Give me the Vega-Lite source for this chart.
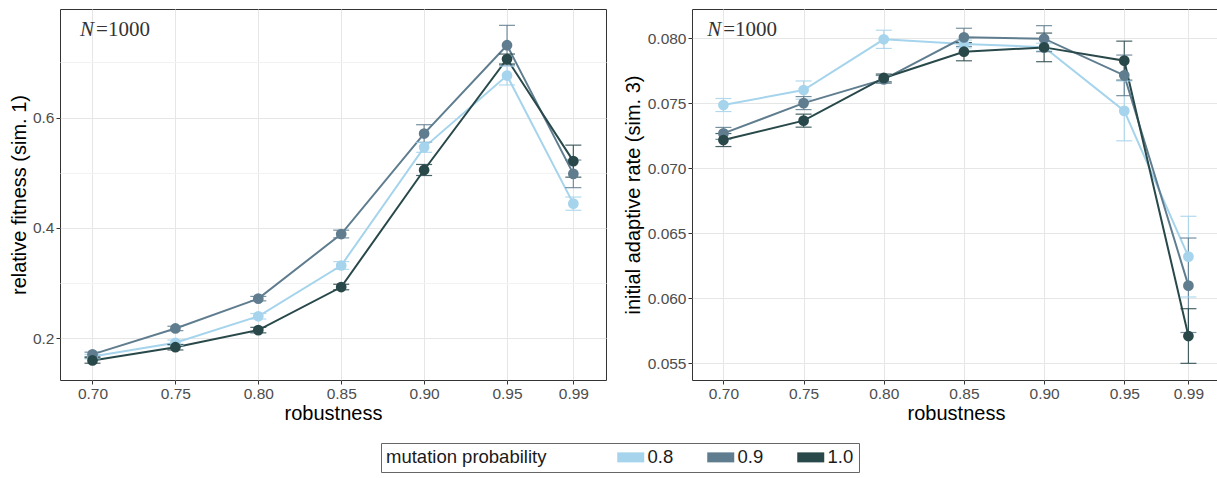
{
  "$schema": "https://vega.github.io/schema/vega-lite/v6.json",
  "padding": {"left": 8, "top": 8, "right": 0, "bottom": 0},
  "background": "white",
  "spacing": 86,
  "bounds": "flush",
  "datasets": {
    "fit": [
      {"r": 0.70, "m": "0.8", "v": 0.167, "lo": 0.163, "hi": 0.171},
      {"r": 0.75, "m": "0.8", "v": 0.192, "lo": 0.187, "hi": 0.197},
      {"r": 0.80, "m": "0.8", "v": 0.240, "lo": 0.235, "hi": 0.245},
      {"r": 0.85, "m": "0.8", "v": 0.332, "lo": 0.325, "hi": 0.339},
      {"r": 0.90, "m": "0.8", "v": 0.546, "lo": 0.537, "hi": 0.555},
      {"r": 0.95, "m": "0.8", "v": 0.676, "lo": 0.659, "hi": 0.693},
      {"r": 0.99, "m": "0.8", "v": 0.444, "lo": 0.432, "hi": 0.456},
      {"r": 0.70, "m": "0.9", "v": 0.171, "lo": 0.167, "hi": 0.175},
      {"r": 0.75, "m": "0.9", "v": 0.218, "lo": 0.214, "hi": 0.222},
      {"r": 0.80, "m": "0.9", "v": 0.272, "lo": 0.268, "hi": 0.276},
      {"r": 0.85, "m": "0.9", "v": 0.389, "lo": 0.382, "hi": 0.396},
      {"r": 0.90, "m": "0.9", "v": 0.571, "lo": 0.555, "hi": 0.587},
      {"r": 0.95, "m": "0.9", "v": 0.731, "lo": 0.695, "hi": 0.767},
      {"r": 0.99, "m": "0.9", "v": 0.498, "lo": 0.473, "hi": 0.523},
      {"r": 0.70, "m": "1.0", "v": 0.160, "lo": 0.155, "hi": 0.165},
      {"r": 0.75, "m": "1.0", "v": 0.184, "lo": 0.179, "hi": 0.189},
      {"r": 0.80, "m": "1.0", "v": 0.215, "lo": 0.210, "hi": 0.220},
      {"r": 0.85, "m": "1.0", "v": 0.293, "lo": 0.288, "hi": 0.298},
      {"r": 0.90, "m": "1.0", "v": 0.505, "lo": 0.495, "hi": 0.515},
      {"r": 0.95, "m": "1.0", "v": 0.706, "lo": 0.697, "hi": 0.715},
      {"r": 0.99, "m": "1.0", "v": 0.521, "lo": 0.492, "hi": 0.550}
    ],
    "rate": [
      {"r": 0.70, "m": "0.8", "v": 0.07485, "lo": 0.07435, "hi": 0.07535},
      {"r": 0.75, "m": "0.8", "v": 0.07600, "lo": 0.07530, "hi": 0.07670},
      {"r": 0.80, "m": "0.8", "v": 0.07990, "lo": 0.07920, "hi": 0.08060},
      {"r": 0.85, "m": "0.8", "v": 0.07954, "lo": 0.07924, "hi": 0.07984},
      {"r": 0.90, "m": "0.8", "v": 0.07930, "lo": 0.07900, "hi": 0.07960},
      {"r": 0.95, "m": "0.8", "v": 0.07440, "lo": 0.07210, "hi": 0.07670},
      {"r": 0.99, "m": "0.8", "v": 0.06320, "lo": 0.06010, "hi": 0.06630},
      {"r": 0.70, "m": "0.9", "v": 0.07267, "lo": 0.07221, "hi": 0.07313},
      {"r": 0.75, "m": "0.9", "v": 0.07500, "lo": 0.07450, "hi": 0.07550},
      {"r": 0.80, "m": "0.9", "v": 0.07682, "lo": 0.07652, "hi": 0.07712},
      {"r": 0.85, "m": "0.9", "v": 0.08005, "lo": 0.07935, "hi": 0.08075},
      {"r": 0.90, "m": "0.9", "v": 0.07995, "lo": 0.07895, "hi": 0.08095},
      {"r": 0.95, "m": "0.9", "v": 0.07713, "lo": 0.07557, "hi": 0.07869},
      {"r": 0.99, "m": "0.9", "v": 0.06097, "lo": 0.05737, "hi": 0.06463},
      {"r": 0.70, "m": "1.0", "v": 0.07216, "lo": 0.07166, "hi": 0.07266},
      {"r": 0.75, "m": "1.0", "v": 0.07365, "lo": 0.07315, "hi": 0.07415},
      {"r": 0.80, "m": "1.0", "v": 0.07693, "lo": 0.07663, "hi": 0.07723},
      {"r": 0.85, "m": "1.0", "v": 0.07895, "lo": 0.07825, "hi": 0.07965},
      {"r": 0.90, "m": "1.0", "v": 0.07928, "lo": 0.07818, "hi": 0.08038},
      {"r": 0.95, "m": "1.0", "v": 0.07826, "lo": 0.07676, "hi": 0.07976},
      {"r": 0.99, "m": "1.0", "v": 0.05710, "lo": 0.05500, "hi": 0.05920}
    ]
  },
  "hconcat": [
    {
      "width": 546,
      "height": 371,
      "data": {"name": "fit"},
      "encoding": {
        "x": {
          "field": "r", "type": "quantitative", "title": "robustness",
          "scale": {"domain": [0.6804, 1.0097], "nice": false, "zero": false},
          "axis": {"values": [0.70, 0.75, 0.80, 0.85, 0.90, 0.95, 0.99], "format": ".2f"}
        },
        "color": {
          "field": "m", "type": "nominal", "title": "mutation probability",
          "scale": {"domain": ["0.8", "0.9", "1.0"], "range": ["#a5d4ec", "#5f7d8f", "#28484a"]}
        }
      },
      "layer": [
        {
          "mark": {"type": "line", "strokeWidth": 2},
          "encoding": {
            "y": {
              "field": "v", "type": "quantitative", "title": "relative fitness (sim. 1)",
              "scale": {"domain": [0.1246, 0.7966], "nice": false, "zero": false},
              "axis": {
                "values": [0.2, 0.3, 0.4, 0.5, 0.6, 0.7],
                "labelExpr": "round(datum.value*10)%2==0 ? format(datum.value,'.1f') : ''",
                "tickOpacity": {"condition": {"test": "round(datum.value*10)%2==1", "value": 0}, "value": 1},
                "gridColor": {"condition": {"test": "round(datum.value*10)%2==1", "value": "#f2f2f2"}, "value": "#e6e6e6"},
                "titlePadding": 3
              }
            }
          }
        },
        {
          "mark": {"type": "rule", "strokeWidth": 1.2, "opacity": 0.85},
          "encoding": {"y": {"field": "lo", "type": "quantitative"}, "y2": {"field": "hi"}}
        },
        {
          "mark": {"type": "tick", "orient": "horizontal", "size": 16, "thickness": 1.2, "opacity": 0.85},
          "encoding": {"y": {"field": "lo", "type": "quantitative"}}
        },
        {
          "mark": {"type": "tick", "orient": "horizontal", "size": 16, "thickness": 1.2, "opacity": 0.85},
          "encoding": {"y": {"field": "hi", "type": "quantitative"}}
        },
        {
          "mark": {"type": "point", "filled": true, "size": 115, "opacity": 1},
          "encoding": {"y": {"field": "v", "type": "quantitative"}}
        },
        {
          "data": {"values": [{"x": 0.6925, "y": 0.759, "t": "N"}]},
          "mark": {"type": "text", "font": "Liberation Serif", "fontSize": 21, "fontStyle": "italic", "align": "left", "baseline": "middle"},
          "encoding": {"x": {"field": "x", "type": "quantitative"}, "y": {"field": "y", "type": "quantitative"}, "text": {"field": "t"}, "color": {"value": "#333333"}}
        },
        {
          "data": {"values": [{"x": 0.6925, "y": 0.759, "t": "=1000"}]},
          "mark": {"type": "text", "font": "Liberation Serif", "fontSize": 21, "align": "left", "baseline": "middle", "dx": 16},
          "encoding": {"x": {"field": "x", "type": "quantitative"}, "y": {"field": "y", "type": "quantitative"}, "text": {"field": "t"}, "color": {"value": "#333333"}}
        }
      ]
    },
    {
      "width": 528,
      "height": 371,
      "data": {"name": "rate"},
      "encoding": {
        "x": {
          "field": "r", "type": "quantitative", "title": "robustness",
          "scale": {"domain": [0.6804, 1.0097], "nice": false, "zero": false},
          "axis": {"values": [0.70, 0.75, 0.80, 0.85, 0.90, 0.95, 0.99], "format": ".2f"}
        },
        "color": {
          "field": "m", "type": "nominal", "title": "mutation probability",
          "scale": {"domain": ["0.8", "0.9", "1.0"], "range": ["#a5d4ec", "#5f7d8f", "#28484a"]}
        }
      },
      "layer": [
        {
          "mark": {"type": "line", "strokeWidth": 2},
          "encoding": {
            "y": {
              "field": "v", "type": "quantitative", "title": "initial adaptive rate (sim. 3)",
              "scale": {"domain": [0.05372, 0.08223], "nice": false, "zero": false},
              "axis": {
                "values": [0.055, 0.0575, 0.06, 0.0625, 0.065, 0.0675, 0.07, 0.0725, 0.075, 0.0775, 0.08],
                "labelExpr": "round(datum.value*400)%2==0 ? format(datum.value,'.3f') : ''",
                "tickOpacity": {"condition": {"test": "round(datum.value*400)%2==1", "value": 0}, "value": 1},
                "gridColor": {"condition": {"test": "round(datum.value*400)%2==1", "value": "#f2f2f2"}, "value": "#e6e6e6"},
                "titlePadding": 4
              }
            }
          }
        },
        {
          "mark": {"type": "rule", "strokeWidth": 1.2, "opacity": 0.85},
          "encoding": {"y": {"field": "lo", "type": "quantitative"}, "y2": {"field": "hi"}}
        },
        {
          "mark": {"type": "tick", "orient": "horizontal", "size": 16, "thickness": 1.2, "opacity": 0.85},
          "encoding": {"y": {"field": "lo", "type": "quantitative"}}
        },
        {
          "mark": {"type": "tick", "orient": "horizontal", "size": 16, "thickness": 1.2, "opacity": 0.85},
          "encoding": {"y": {"field": "hi", "type": "quantitative"}}
        },
        {
          "mark": {"type": "point", "filled": true, "size": 115, "opacity": 1},
          "encoding": {"y": {"field": "v", "type": "quantitative"}}
        },
        {
          "data": {"values": [{"x": 0.6899, "y": 0.08064, "t": "N"}]},
          "mark": {"type": "text", "font": "Liberation Serif", "fontSize": 21, "fontStyle": "italic", "align": "left", "baseline": "middle"},
          "encoding": {"x": {"field": "x", "type": "quantitative"}, "y": {"field": "y", "type": "quantitative"}, "text": {"field": "t"}, "color": {"value": "#333333"}}
        },
        {
          "data": {"values": [{"x": 0.6899, "y": 0.08064, "t": "=1000"}]},
          "mark": {"type": "text", "font": "Liberation Serif", "fontSize": 21, "align": "left", "baseline": "middle", "dx": 16},
          "encoding": {"x": {"field": "x", "type": "quantitative"}, "y": {"field": "y", "type": "quantitative"}, "text": {"field": "t"}, "color": {"value": "#333333"}}
        }
      ]
    }
  ],
  "config": {
    "font": "Liberation Sans",
    "view": {"stroke": "#333333", "strokeWidth": 1},
    "axis": {
      "domain": false,
      "tickColor": "#333333",
      "tickSize": 4,
      "tickWidth": 1,
      "labelColor": "#4d4d4d",
      "labelFontSize": 15.5,
      "labelPadding": 2,
      "titleFontSize": 20,
      "titleFontWeight": "normal",
      "titleColor": "#000000",
      "gridColor": "#e6e6e6",
      "gridWidth": 1
    },
    "axisX": {"titlePadding": 2, "labelFlush": false},
    "legend": {
      "orient": "none",
      "legendX": 321,
      "legendY": 434,
      "direction": "horizontal",
      "titleOrient": "left",
      "titleFontSize": 18.5,
      "titleFontWeight": "normal",
      "titleColor": "#1a1a1a",
      "titlePadding": 66,
      "labelFontSize": 18.5,
      "labelColor": "#1a1a1a",
      "symbolType": "M-1,-1H4.4V1H-1Z",
      "symbolSize": 100,
      "symbolStrokeWidth": 0,
      "symbolOpacity": 1,
      "labelOffset": 16,
      "columnPadding": 29,
      "padding": 5,
      "strokeColor": "#666666",
      "fillColor": "white"
    }
  }
}
